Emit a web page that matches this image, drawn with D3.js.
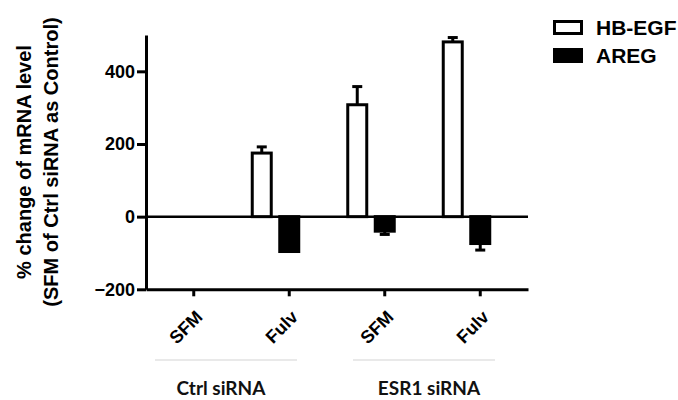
<!DOCTYPE html>
<html lang="en">
<head>
    <meta charset="UTF-8">
    <title>mRNA level</title>
    <script src="https://d3js.org/d3.v7.min.js"></script>
    <style>
        body {margin: 0; background: white;}
        text {font-family: Arial, "Liberation Sans", sans-serif; font-weight: bold; fill: black;}
        .axis path, .axis line {stroke: black; stroke-width: 3;}
        .group-label {font-family: Lato, "Open Sans", sans-serif; font-weight: bold; fill: #111;}
    </style>
</head>
<body>
<script>
    const width = 678;
    const height = 400;

    // data
    const groups = ["Ctrl siRNA", "ESR1 siRNA"];
    const conditions = ["SFM", "Fulv", "SFM", "Fulv"];
    const series = ["HB-EGF", "AREG"];
    const hbegf = [0, 175, 308, 481];
    const hbegfErr = [0, 17, 50, 12];
    const areg = [0, -96, -40, -74];
    const aregErr = [0, 0, 9, 18];
    const yTicks = [-200, 0, 200, 400];

    const svg = d3.select("body").append("svg")
            .attr("width", width).attr("height", height);

    const x0 = d3.scaleBand()
            .domain(d3.range(conditions.length))
            .range([146, 528]);

    // third (empty) slot keeps AREG on the tick, like the original
    const x1 = d3.scaleBand()
            .domain(["HB-EGF", "AREG", "pad"])
            .range([0, 77])
            .paddingInner(0.2);

    const y = d3.scaleLinear()
            .domain([-200, 500])
            .range([289.3, 35]);

    // y axis
    svg.append("g").attr("class", "axis")
            .attr("transform", "translate(146,0)")
            .call(d3.axisLeft(y).tickValues(yTicks).tickSize(9).tickSizeOuter(0).tickPadding(2))
            .call(g => g.selectAll("text").attr("font-size", null).attr("font-family", null)
                    .style("font-size", "18px"));

    // x axis
    svg.append("g").attr("class", "axis")
            .attr("transform", "translate(0,289.3)")
            .call(d3.axisBottom(x0).tickSize(7).tickSizeOuter(0).tickFormat(i => conditions[i]))
            .call(g => g.selectAll("text")
                    .attr("font-size", null).attr("font-family", null)
                    .style("font-size", "18px")
                    .attr("text-anchor", "end")
                    .attr("y", 0).attr("dy", "0.7em")
                    .attr("transform", "translate(1,20) rotate(-45)"));

    // zero line
    svg.append("line")
            .attr("x1", 146).attr("x2", 528)
            .attr("y1", y(0)).attr("y2", y(0))
            .attr("stroke", "black").attr("stroke-width", 2.5);

    const data = conditions.map((c, i) => [
        {key: "HB-EGF", i: i, v: hbegf[i], e: hbegfErr[i]},
        {key: "AREG", i: i, v: areg[i], e: aregErr[i]}
    ]).flat().filter(d => d.v !== 0);

    const bw = x1.bandwidth();
    const barX = d => x0(d.i) + (x0.bandwidth() - 77) / 2 + x1(d.key);

    // error bars
    const err = svg.append("g");
    data.filter(d => d.e > 0).forEach(d => {
        const cx = barX(d) + bw / 2;
        const tip = d.v > 0 ? y(d.v + d.e) : y(d.v - d.e);
        err.append("line")
                .attr("x1", cx).attr("x2", cx)
                .attr("y1", y(d.v)).attr("y2", tip)
                .attr("stroke", "black").attr("stroke-width", 3);
        err.append("line")
                .attr("x1", cx - 5).attr("x2", cx + 5)
                .attr("y1", tip).attr("y2", tip)
                .attr("stroke", "black").attr("stroke-width", 3);
    });

    svg.append("g").selectAll("rect")
            .data(data).enter()
            .append("rect")
            .attr("x", d => barX(d) + 1.5)
            .attr("width", bw - 3)
            .attr("y", d => Math.min(y(d.v), y(0)))
            .attr("height", d => Math.abs(y(d.v) - y(0)))
            .attr("fill", d => d.key === "HB-EGF" ? "white" : "black")
            .attr("stroke", "black").attr("stroke-width", 3);

    // group brackets (the original sits a little left of the band pair)
    const bracketShift = [[9, -40], [16, -33]];
    const labelShift = [-5, 5];
    groups.forEach((g, k) => {
        const a = x0(k * 2) + bracketShift[k][0];
        const b = x0(k * 2 + 1) + x0.bandwidth() + bracketShift[k][1];
        svg.append("line")
                .attr("x1", a).attr("x2", b)
                .attr("y1", 360).attr("y2", 360)
                .attr("stroke", "#d4d4d4").attr("stroke-width", 1.2);
        svg.append("text").attr("class", "group-label")
                .attr("x", (a + b) / 2 + labelShift[k]).attr("y", 395)
                .attr("text-anchor", "middle")
                .style("font-size", "19px")
                .text(g);
    });

    // y title
    const yt = svg.append("text")
            .attr("transform", "translate(0,162) rotate(-90)")
            .attr("text-anchor", "middle")
            .style("font-size", "20px");
    yt.append("tspan").attr("x", 0).attr("y", 31).text("% change of mRNA level");
    yt.append("tspan").attr("x", 0).attr("y", 58).text("(SFM of Ctrl siRNA as Control)");

    // legend
    const legend = svg.append("g").attr("transform", "translate(553,20)");
    series.forEach((s, k) => {
        const row = legend.append("g").attr("transform", `translate(0,${k * 28})`);
        row.append("rect")
                .attr("x", 1.5).attr("y", 1.5)
                .attr("width", 27).attr("height", 12)
                .attr("fill", k === 0 ? "white" : "black")
                .attr("stroke", "black").attr("stroke-width", 3);
        row.append("text")
                .attr("x", 43).attr("y", 15)
                .style("font-size", "21px")
                .text(s);
    });
</script>
</body>
</html>
